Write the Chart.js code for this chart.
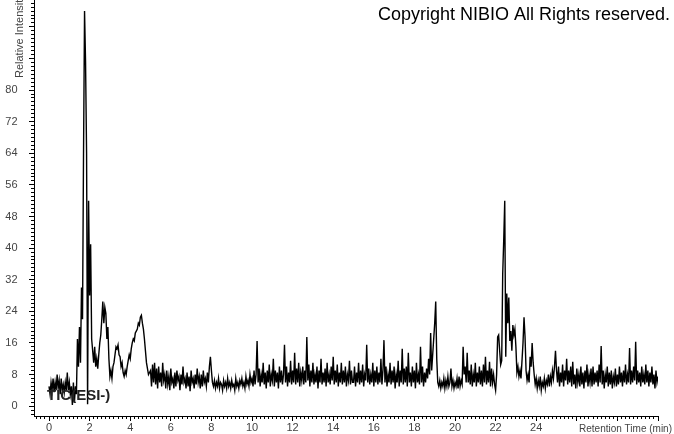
<!DOCTYPE html>
<html><head><meta charset="utf-8">
<script src="https://cdn.jsdelivr.net/npm/chart.js@4.4.0/dist/chart.umd.min.js"></script>
<style>html,body{margin:0;padding:0;background:#fff;}canvas{display:block;}</style>
</head><body>
<canvas id="c" width="674" height="434"></canvas>
<script>
// Retention time sampling (min) and relative intensity values
const sampleStep = 0.05;
const segmentStarts = [0, 5, 10, 15, 20, 25];

const seg00to05 = [
  5,3,6,4,7,3.5,6,4,8,4.5, 6.5,3,7,4,5.5,3.5,6,4,8.5,4,
  6,3,5,0.3,6,0.8,5,3,17,10, 20,11,30,22,64,100,87,64,0.5,52,
  28,41,17,14,11,15,10,12,9.5,13, 16,18,22,26.5,21,25,23.5,17,20,12,
  7.5,9,7,10,11,13,15,14.5,15.5,13, 12.5,10,11,8.5,7.5,9,8,10,11.5,13,
  12,14.5,16,17,16.5,18.5,19,19.5,21,20.5, 22.5,23,21,19.5,17,14,11,9.5,8,8.5
];
const seg05to10 = [
  9,5,10.5,6,11,5.5,9.5,4.5,10,6, 8.5,5,11,6.5,8,4.5,9,5.5,7.5,4,
  9.5,6,7,4.5,8.5,5,9,6.5,7.5,4, 8,5.5,10,6,7,4.5,8.5,5,7.5,3.8,
  9,6,7,4.5,8,5.5,9.5,6,7.5,4.5, 8,5,9,6,7,5,8.5,6,10,12.5,
  9,6,5,6.5,4.5,6,5,7,4.5,6, 5.5,4,6.5,5,6,4.5,7,5,6,4.5,
  6.5,5,5.5,4,7,5,6,4.5,6.5,5.5, 7,5,6,4.5,7.5,5.5,6.5,5,8,6
];
const seg10to15 = [
  7,5,9,5.5,8,16.5,6,9.5,5,8, 6,11,5.5,8.5,4.5,9,6,10.5,5,8,
  6.5,12,5,9,6,8.5,4.5,10,6,9, 5.5,8,15.5,6,10,5,8.5,6,11.5,5.5,
  9,6,13.5,5.5,9.5,6,11,5,8.5,6.5, 10,5.5,9,6,17.5,6.5,10.5,5,9,6,
  11,5.5,8,6,10,4.5,9,6,12,5.5, 8.5,6,9.5,5,11,6,8,5.5,10,6.5,
  12.5,5.5,9,6,10.5,5,8.5,6,11,5.5, 9,6,10,5,8,6.5,11.5,5.5,9,6
];
const seg15to20 = [
  6,10,5,8.5,6,11,5.5,9,6,10.5, 5,8,6.5,15.5,6,9.5,5.5,8,6,11,
  5,9,6,10,5.5,8.5,6,12,5.5,9, 16.7,6,10,5,8,6,11,5.5,9,6,
  10,4.5,8,6,11.5,5,9,6,14.5,5.5, 9.5,6,10,5,13.5,6,8.5,5,10,6,
  9,4.5,11,6,8,5.5,15,6,10,5, 8.5,6,9.5,7,12,8,18.5,9,13,17,
  21,26.5,12,6,5,6.5,4.5,6,5,7, 4.5,6.5,5,7.5,5,6,9.5,5,6.5,4.5
];
const seg20to25 = [
  6,5,7,4.5,7.5,5,6.5,5.5,15,8, 10,6,13.5,6,9,5.5,10.5,5,8,6,
  11,5,8.5,6,10,5.5,9,5,10.5,6, 12.5,5.5,9,6,11.2,5,9.5,6,8,5.5,
  4,8,17.5,18,14,10.5,11.5,33.5,42,52, 12.5,28.5,21,27.5,16.5,19,14,20.5,18,19.5,
  15,8.5,10,7.5,9,7,11.5,16,22.5,17.5, 9,6.5,8,6,12.5,10,16,11,8,5.5,
  7,4.5,6.5,5,7.5,4,6,5,7,4.5, 6.5,5.5,8,5,7.5,6,9,7,10,14
];
const seg25to30 = [
  9,6,10,5,8.5,6,10.5,5,9,6.5, 12,5.5,9,6,10,5,11.2,5.5,8,4.5,
  9.5,6,8,5,10,5.5,8.5,4.5,9,6, 10.5,5,8,6,9.5,5,10,5.5,8.5,6,
  9,5,10.5,6,15.2,5.5,9,4.5,8,6, 10,5,8.5,5.5,9,4.5,7.5,6,9.5,5,
  8,5.5,10,6,8.5,5,9,6,10.5,5.5, 8,6,14.7,5.5,9,6,10,6.5,16.3,5.5,
  9,6,8.5,5,10,6,8,5.5,10.5,6, 9,5,8.5,6,10,5.5,8,4.5,9,6,
  7.5
];

const xTickLabels = [0, 2, 4, 6, 8, 10, 12, 14, 16, 18, 20, 22, 24];
const yTickLabels = [0, 8, 16, 24, 32, 40, 48, 56, 64, 72, 80];
const xMajorTicks = [0, 2, 4, 6, 8, 10, 12, 14, 16, 18, 20, 22, 24, 26, 28, 30];
const yMajorTicks = [0, 8, 16, 24, 32, 40, 48, 56, 64, 72, 80, 88, 96];

const segments = [seg00to05, seg05to10, seg10to15, seg15to20, seg20to25, seg25to30];
const points = [];
segments.forEach((seg, k) => seg.forEach((v, i) => {
  points.push({ x: +(segmentStarts[k] + i * sampleStep).toFixed(2), y: v });
}));

const FONT = '"Liberation Sans", Arial, sans-serif';
const near = (v, list) => list.some(t => Math.abs(t - v) < 1e-6);

function align(p) { return Math.round(p - 0.5) + 0.5; }

const decorPlugin = {
  id: 'decor',
  afterDraw(chart) {
    const { ctx, scales: { x, y } } = chart;
    ctx.save();
    ctx.strokeStyle = '#000';
    ctx.lineWidth = 1;
    xMajorTicks.forEach(v => {
      const px = align(x.getPixelForValue(v));
      ctx.beginPath(); ctx.moveTo(px, x.top); ctx.lineTo(px, x.top + 5); ctx.stroke();
    });
    yMajorTicks.forEach(v => {
      const py = align(y.getPixelForValue(v));
      ctx.beginPath(); ctx.moveTo(y.right, py); ctx.lineTo(y.right - 5, py); ctx.stroke();
    });
    ctx.fillStyle = '#000';
    ctx.font = '18px ' + FONT;
    ctx.textAlign = 'right';
    ctx.textBaseline = 'alphabetic';
    ctx.fillText('Copyright NIBIO All Rights reserved.', 670, 20);

    ctx.fillStyle = '#222';
    ctx.font = 'bold 15px ' + FONT;
    ctx.textAlign = 'left';
    ctx.fillText('TIC(ESI-)', 47, 400);

    ctx.fillStyle = '#444';
    ctx.font = '10px ' + FONT;
    ctx.textAlign = 'right';
    ctx.fillText('Retention Time (min)', 672, 432);

    ctx.save();
    ctx.translate(23, 78);
    ctx.rotate(-Math.PI / 2);
    ctx.textAlign = 'left';
    ctx.font = '11px ' + FONT;
    ctx.fillText('Relative Intensity', 0, 0);
    ctx.restore();
    ctx.restore();
  }
};

const zeroPad = s => { s.paddingTop = 0; s.paddingBottom = 0; s.paddingLeft = 0; s.paddingRight = 0; };

new Chart(document.getElementById('c'), {
  type: 'line',
  data: {
    datasets: [{
      data: points,
      borderColor: '#000',
      borderWidth: 1.4,
      pointRadius: 0,
      tension: 0,
      fill: false
    }]
  },
  options: {
    responsive: false,
    animation: false,
    parsing: false,
    devicePixelRatio: 1,
    layout: { autoPadding: false, padding: { left: 0, right: 16, top: 0, bottom: 0 } },
    plugins: { legend: { display: false }, title: { display: false }, tooltip: { enabled: false } },
    scales: {
      x: {
        type: 'linear',
        min: -0.74,
        max: 30,
        border: { display: true, color: '#000', width: 1 },
        grid: { display: true, drawOnChartArea: false, drawTicks: true, tickLength: 3, color: '#000' },
        ticks: {
          stepSize: 0.2, autoSkip: false, maxRotation: 0, includeBounds: false, padding: 2,
          color: '#444', font: { family: FONT, size: 11 },
          callback: v => near(v, xTickLabels) ? String(Math.round(v)) : ''
        },
        afterFit: s => { s.height = 18; zeroPad(s); }
      },
      y: {
        type: 'linear',
        min: -2.5,
        max: 102.8,
        border: { display: true, color: '#000', width: 1 },
        grid: { display: true, drawOnChartArea: false, drawTicks: true, tickLength: 3, color: '#000' },
        ticks: {
          stepSize: 1, autoSkip: false, includeBounds: false, padding: 13.5,
          color: '#444', font: { family: FONT, size: 11 },
          callback: v => near(v, yTickLabels) ? String(Math.round(v)) : ''
        },
        afterFit: s => { s.width = 34; zeroPad(s); }
      }
    }
  },
  plugins: [decorPlugin]
});
</script>
</body></html>
